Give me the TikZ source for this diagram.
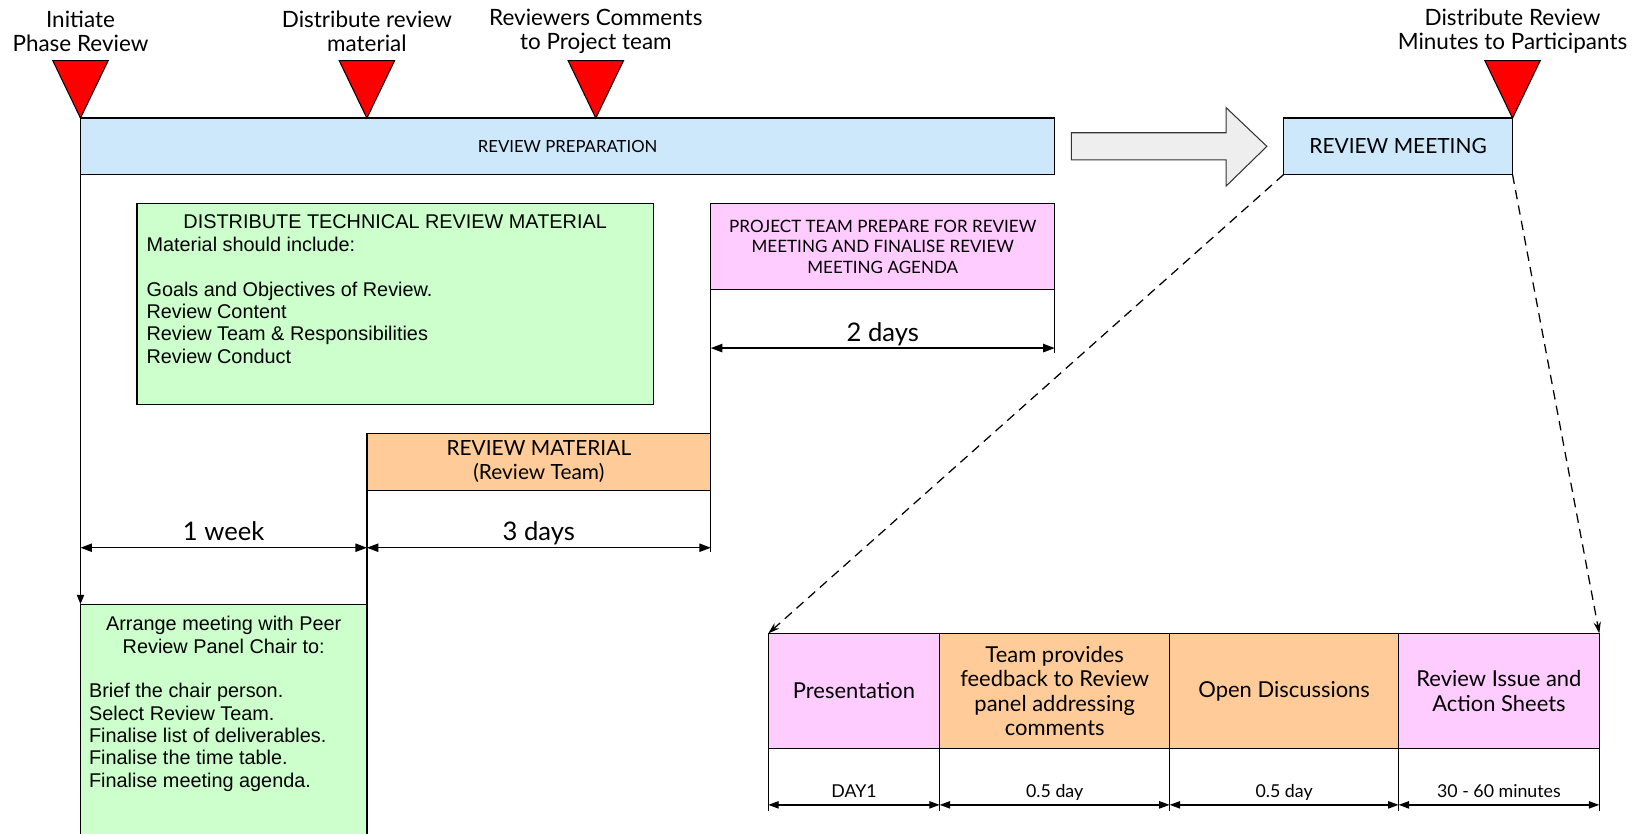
\documentclass[tikz,border=0pt]{standalone}
\usepackage{fontspec}
\setmainfont{Lato}
\newfontfamily\arialf{Liberation Sans}
\usetikzlibrary{arrows.meta,calc}
\definecolor{prepblue}{RGB}{204,232,250}
\definecolor{greenc}{RGB}{204,255,204}
\definecolor{pinkc}{RGB}{255,204,255}
\definecolor{orangec}{RGB}{255,204,153}
\definecolor{arrowgray}{RGB}{238,238,238}
\tikzset{
  box/.style={draw=black, line width=1.2pt, inner sep=0pt, outer sep=0pt, anchor=north west, align=center},
  lbl/.style={inner sep=0pt, align=center, font=\fontsize{21.5}{23}\selectfont},
  dimline/.style={line width=1.2pt, {Triangle[length=11pt,width=8pt]}-{Triangle[length=11pt,width=8pt]}},
  smalldim/.style={line width=1.2pt, {Triangle[length=10pt,width=7pt]}-{Triangle[length=10pt,width=7pt]}},
  extline/.style={line width=1.2pt},
  milestone/.style={draw=black, fill=red, line width=1pt, line join=miter},
  dashconn/.style={line width=1.2pt, dash pattern=on 9pt off 6pt, -{Stealth[length=11pt,width=7pt]}},
  greentext/.style={inner sep=0pt, font=\arialf\fontsize{19}{21.4}\selectfont},
  celltext/.style={font=\fontsize{21}{23.5}\selectfont},
  dimtext/.style={inner sep=0pt, anchor=base, font=\fontsize{24.5}{26}\selectfont},
  smalltext/.style={inner sep=0pt, anchor=base, font=\fontsize{17}{19}\selectfont},
}
\begin{document}
\begin{tikzpicture}[x=1pt,y=-1pt]
\useasboundingbox (0,0) rectangle (1568,797);

% main bars
\node[box, fill=prepblue, minimum width=932, minimum height=54, font=\fontsize{16}{18}\selectfont] (prep) at (77,113) {REVIEW PREPARATION};
\node[box, fill=prepblue, minimum width=219, minimum height=54, font=\fontsize{20}{22}\selectfont] (meet) at (1228,113) {REVIEW MEETING};

% big arrow
\draw[fill=arrowgray, draw=black!80, line width=1pt, line join=miter]
  ($(prep.east)+(16,-13)$) -- ++(148,0) -- ++(0,-24) -- ++(39,37) -- ++(-39,38) -- ++(0,-25) -- ++(-148,0) -- cycle;

% milestones
\coordinate (m1) at (prep.north west);
\coordinate (m2) at ($(prep.north west)+(274,0)$);
\coordinate (m3) at ($(prep.north west)+(493,0)$);
\coordinate (m4) at (meet.north east);
\foreach \m in {m1,m2,m3,m4}{
  \draw[milestone] (\m) -- ++(-26.5,-55) -- ++(53,0) -- cycle;
}
\node[lbl] (l1) at ($(m1)+(0,-83)$) {Initiate\\Phase Review};
\node[lbl] (l2) at ($(m2)+(0,-83)$) {Distribute review\\material};
\node[lbl] (l3) at ($(m3)+(0,-83)$) {Reviewers Comments\\to Project team};
\node[lbl] (l4) at ($(m4)+(0,-83)$) {Distribute Review\\Minutes to Participants};

% green box 1
\node[box, fill=greenc, minimum width=494, minimum height=192] (green1) at (131,195) {};
\node[greentext, anchor=north] (g1title) at ($(green1.north)+(0,10)$) {DISTRIBUTE TECHNICAL REVIEW MATERIAL};
\node[greentext, anchor=north west, align=left] (g1list) at ($(green1.north west)+(9,31.5)$)
  {Material should include:\\[21.4pt]Goals and Objectives of Review.\\Review Content\\Review Team \& Responsibilities\\Review Conduct};

% pink box
\node[box, fill=pinkc, minimum width=329, minimum height=82, font=\fontsize{16.3}{19.5}\selectfont] (pink) at (680,195)
  {PROJECT TEAM PREPARE FOR REVIEW\\MEETING AND FINALISE REVIEW\\MEETING AGENDA};

% orange box
\node[box, fill=orangec, minimum width=329, minimum height=54, font=\fontsize{20}{23}\selectfont] (orange) at (351,415)
  {REVIEW MATERIAL\\(Review Team)};

% green box 2
\node[box, fill=greenc, minimum width=274, minimum height=240] (green2) at (77,578) {};
\node[greentext, anchor=north, align=center] (g2title) at ($(green2.north)+(0,11.5)$) {Arrange meeting with Peer\\Review Panel Chair to:};
\node[greentext, anchor=north west, align=left] (g2list) at ($(green2.north west)+(8,75.5)$)
  {Brief the chair person.\\Select Review Team.\\Finalise list of deliverables.\\Finalise the time table.\\Finalise meeting agenda.};

% extension lines
\draw[extline, -{Triangle[length=9pt,width=7pt]}] (prep.south west) -- (green2.north west);
\coordinate (pinkdown) at ($(pink.south west)+(0,251)$);
\coordinate (pinkright) at ($(pink.south east)+(0,61)$);
\draw[extline] (pink.south west) -- (pinkdown);
\draw[extline] (pink.south east) -- (pinkright);
\draw[extline] (orange.south west) -- (green2.north east);

% dimensions
\coordinate (d1a) at (77,524);
\coordinate (d1b) at (351,524);
\coordinate (d1c) at (680,524);
\draw[dimline] (d1a) -- (d1b);
\draw[dimline] (d1b) -- (d1c);
\node[dimtext] (t1) at ($(d1a)!0.5!(d1b)+(0,-6.5)$) {1 week};
\node[dimtext] (t2) at ($(d1b)!0.5!(d1c)+(0,-6.5)$) {3 days};
\coordinate (d2a) at (680,333);
\coordinate (d2b) at (1009,333);
\draw[dimline] (d2a) -- (d2b);
\node[dimtext] (t3) at ($(d2a)!0.5!(d2b)+(0,-6.5)$) {2 days};

% meeting table
\node[box, fill=pinkc, minimum width=164, minimum height=110, celltext] (c1) at (735,606) {Presentation};
\node[box, fill=orangec, minimum width=220, minimum height=110, celltext] (c2) at (c1.north east) {Team provides\\feedback to Review\\panel addressing\\comments};
\node[box, fill=orangec, minimum width=219, minimum height=110, celltext] (c3) at (c2.north east) {Open Discussions};
\node[box, fill=pinkc, minimum width=192, minimum height=110, celltext] (c4) at (c3.north east) {Review Issue and\\Action Sheets};

\foreach \c/\n in {c1.south west/e0, c2.south west/e1, c3.south west/e2, c4.south west/e3, c4.south east/e4}{
  \coordinate (\n) at ($(\c)+(0,60)$);
  \draw[extline] (\c) -- (\n);
}
\foreach \a/\b in {e0/e1, e1/e2, e2/e3, e3/e4}{
  \draw[smalldim] ($(\a)+(0,-6)$) -- ($(\b)+(0,-6)$);
}
\node[smalltext] (s1) at ($(c1.south)+(0,47)$) {DAY1};
\node[smalltext] (s2) at ($(c2.south)+(0,47)$) {0.5 day};
\node[smalltext] (s3) at ($(c3.south)+(0,47)$) {0.5 day};
\node[smalltext] (s4) at ($(c4.south)+(0,47)$) {30 - 60 minutes};

% dashed zoom lines
\draw[dashconn] (meet.south west) -- (c1.north west);
\draw[dashconn] (meet.south east) -- (c4.north east);
\end{tikzpicture}
\end{document}
